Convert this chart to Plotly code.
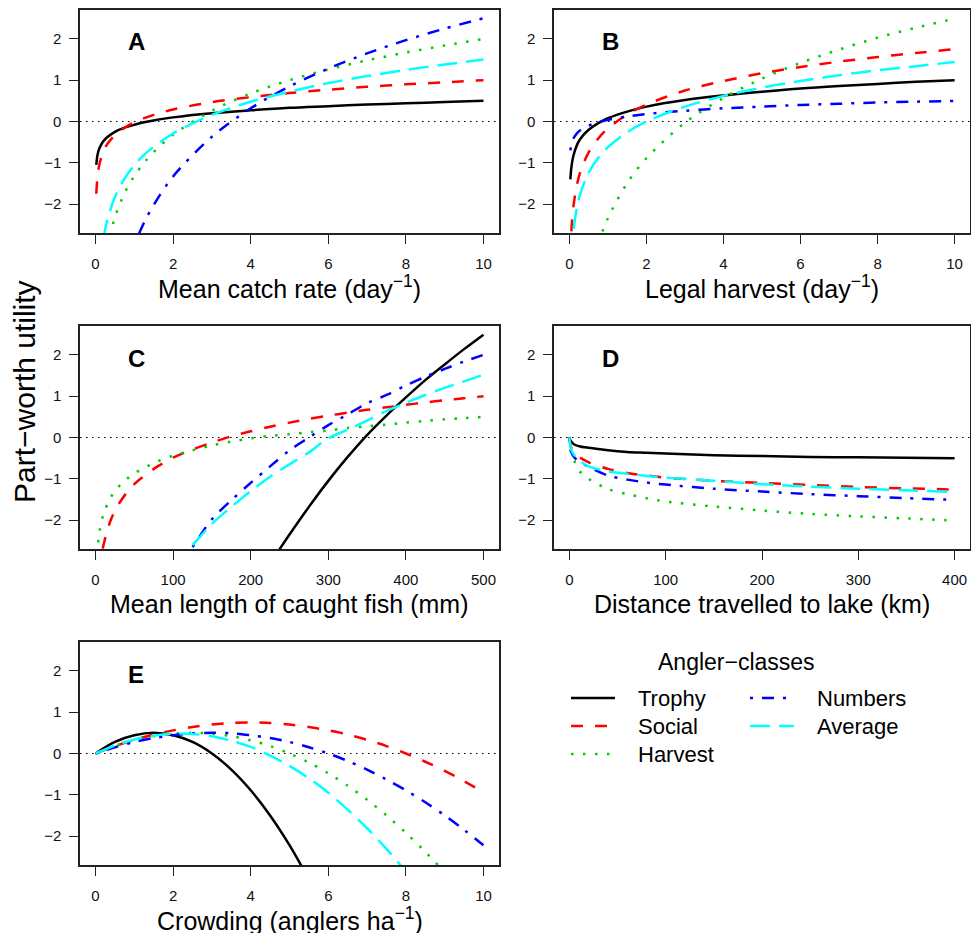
import plotly.graph_objects as go

W, H = 971, 933
FONT = "Liberation Sans, Arial, Helvetica, sans-serif"

CLASSES = ["Trophy", "Social", "Harvest", "Numbers", "Average"]
COLORS = ["#000000", "#FF0000", "#00CD00", "#0000FF", "#00FFFF"]
DASHES = ["solid", "12px,12px", "2.5px,9.5px", "3px,9px,12px,9px", "20px,9px"]

# ---------------- Panel A: mean catch rate (day^-1) ----------------
A_x = [0.02, 0.05, 0.1, 0.2, 0.3, 0.5, 0.75, 1, 1.25, 1.5, 2, 3, 4, 5, 6, 7, 8, 9, 10]
A_trophy = [-1.05, -0.82, -0.65, -0.48, -0.38, -0.25, -0.15, -0.08, -0.02, 0.025, 0.10, 0.20, 0.27, 0.33, 0.37, 0.41, 0.44, 0.47, 0.50]
A_social = [-1.75, -1.35, -1.04, -0.73, -0.55, -0.33, -0.15, -0.02, 0.08, 0.16, 0.29, 0.47, 0.59, 0.69, 0.77, 0.84, 0.90, 0.95, 1.00]
A_harvest = [None, None, None, None, -3.05, -2.32, -1.73, -1.32, -1.00, -0.74, -0.32, 0.26, 0.68, 1.00, 1.26, 1.48, 1.67, 1.84, 2.00]
A_numbers = [None, None, None, None, None, None, None, -2.98, -2.45, -2.02, -1.33, -0.37, 0.32, 0.85, 1.28, 1.65, 1.97, 2.25, 2.50]
A_average = [None, None, None, -2.85, -2.40, -1.83, -1.38, -1.06, -0.81, -0.61, -0.29, 0.16, 0.48, 0.72, 0.93, 1.10, 1.25, 1.38, 1.50]

# ---------------- Panel B: legal harvest (day^-1) ----------------
B_x = [0.025, 0.05, 0.1, 0.2, 0.3, 0.5, 0.75, 1, 1.5, 2, 3, 4, 5, 6, 7, 8, 9, 10]
B_trophy = [-1.40, -1.12, -0.84, -0.56, -0.40, -0.20, -0.04, 0.08, 0.24, 0.36, 0.52, 0.63, 0.72, 0.80, 0.86, 0.91, 0.96, 1.00]
B_social = [-3.24, -2.67, -2.09, -1.51, -1.17, -0.75, -0.41, -0.17, 0.17, 0.41, 0.75, 0.98, 1.17, 1.32, 1.45, 1.56, 1.66, 1.75]
B_harvest = [None, None, None, None, None, None, -2.94, -2.34, -1.49, -0.89, -0.03, 0.57, 1.04, 1.42, 1.74, 2.03, 2.27, 2.49]
B_numbers = [-0.70, -0.56, -0.42, -0.28, -0.20, -0.10, -0.02, 0.04, 0.12, 0.18, 0.26, 0.32, 0.36, 0.40, 0.43, 0.46, 0.48, 0.50]
B_average = [None, -3.30, -2.68, -2.06, -1.70, -1.24, -0.88, -0.62, -0.26, 0.00, 0.36, 0.62, 0.82, 0.98, 1.12, 1.24, 1.34, 1.44]

# ---------------- Panel C: mean length of caught fish (mm) ----------------
C_x = [2, 5, 10, 20, 30, 40, 50, 60, 80, 100, 125, 150, 175, 200, 225, 250, 275, 300, 325, 350, 375, 400, 425, 450, 475, 500]
C_trophy = [None] * 14 + [-3.05, -2.35, -1.68, -1.05, -0.47, 0.06, 0.53, 0.97, 1.39, 1.77, 2.14, 2.49]
C_social = [None, -3.27, -2.63, -1.98, -1.61, -1.34, -1.13, -0.97, -0.70, -0.49, -0.29, -0.12, 0.03, 0.15, 0.26, 0.36, 0.45, 0.53, 0.60, 0.67, 0.73, 0.79, 0.85, 0.90, 0.95, 1.00]
C_harvest = [-2.83, -2.30, -1.87, -1.44, -1.19, -1.01, -0.87, -0.76, -0.58, -0.44, -0.31, -0.19, -0.10, -0.02, 0.04, 0.08, 0.13, 0.17, 0.23, 0.27, 0.31, 0.36, 0.40, 0.44, 0.47, 0.50]
C_numbers = [None] * 9 + [-3.30, -2.65, -1.98, -1.52, -1.10, -0.70, -0.31, 0.00, 0.30, 0.56, 0.83, 1.03, 1.26, 1.47, 1.66, 1.84, 2.00]
C_average = [None] * 9 + [-3.13, -2.61, -2.09, -1.68, -1.30, -0.95, -0.65, -0.36, -0.02, 0.19, 0.41, 0.64, 0.84, 1.03, 1.20, 1.36, 1.52]

# ---------------- Panel D: distance travelled to lake (km) ----------------
D_x = [0, 1, 2, 5, 10, 20, 40, 60, 80, 100, 150, 200, 250, 300, 350, 400]
D_trophy = [0, -0.07, -0.10, -0.17, -0.21, -0.25, -0.31, -0.35, -0.37, -0.39, -0.43, -0.45, -0.47, -0.48, -0.49, -0.50]
D_social = [0, -0.18, -0.25, -0.36, -0.47, -0.60, -0.76, -0.86, -0.92, -0.97, -1.05, -1.10, -1.15, -1.20, -1.23, -1.26]
D_harvest = [0, -0.27, -0.38, -0.56, -0.80, -1.00, -1.25, -1.37, -1.47, -1.55, -1.67, -1.77, -1.85, -1.91, -1.96, -2.01]
D_numbers = [0, -0.25, -0.35, -0.48, -0.58, -0.71, -0.92, -1.02, -1.09, -1.14, -1.24, -1.31, -1.37, -1.42, -1.47, -1.51]
D_average = [0, -0.20, -0.30, -0.43, -0.55, -0.70, -0.82, -0.88, -0.93, -0.97, -1.05, -1.13, -1.19, -1.24, -1.28, -1.32]

# ---------------- Panel E: crowding (anglers ha^-1) ----------------
E_x = [0, 0.5, 1, 1.5, 2, 2.5, 3, 3.5, 4, 4.5, 5, 5.5, 6, 6.5, 7, 7.5, 8, 8.5, 9, 9.5, 10]
E_trophy = [0, 0.28, 0.44, 0.50, 0.44, 0.28, 0.00, -0.39, -0.89, -1.50, -2.22, -3.05] + [None] * 9
E_social = [0, 0.18, 0.33, 0.46, 0.56, 0.64, 0.70, 0.74, 0.75, 0.74, 0.70, 0.64, 0.56, 0.46, 0.33, 0.18, 0.00, -0.20, -0.42, -0.67, -0.94]
E_harvest = [0, 0.18, 0.32, 0.42, 0.48, 0.50, 0.48, 0.42, 0.32, 0.18, 0.00, -0.22, -0.48, -0.78, -1.12, -1.50, -1.92, -2.38, -2.88, None, None]
E_numbers = [0, 0.15, 0.28, 0.375, 0.44, 0.49, 0.50, 0.49, 0.44, 0.375, 0.28, 0.15, 0.00, -0.18, -0.39, -0.63, -0.89, -1.18, -1.50, -1.85, -2.22]
E_average = [0, 0.19, 0.34, 0.43, 0.48, 0.47, 0.42, 0.31, 0.16, -0.05, -0.30, -0.60, -0.95, -1.36, -1.81, -2.31, -2.86, None, None, None, None]

Y_TICKS = [-2, -1, 0, 1, 2]
Y_RANGE = [-2.7, 2.7]

panels = [
    dict(x=A_x, ys=[A_trophy, A_social, A_harvest, A_numbers, A_average],
         xr=[-0.4, 10.4], xt=[0, 2, 4, 6, 8, 10], box=(80, 499, 10, 233),
         letter="A", title="Mean catch rate (day<sup>\u22121</sup>)", ty=287),
    dict(x=B_x, ys=[B_trophy, B_social, B_harvest, B_numbers, B_average],
         xr=[-0.4, 10.4], xt=[0, 2, 4, 6, 8, 10], box=(554, 970, 10, 233),
         letter="B", title="Legal harvest (day<sup>\u22121</sup>)", ty=287),
    dict(x=C_x, ys=[C_trophy, C_social, C_harvest, C_numbers, C_average],
         xr=[-20, 520], xt=[0, 100, 200, 300, 400, 500], box=(80, 499, 326, 549),
         letter="C", title="Mean length of caught fish (mm)", ty=604),
    dict(x=D_x, ys=[D_trophy, D_social, D_harvest, D_numbers, D_average],
         xr=[-16, 416], xt=[0, 100, 200, 300, 400], box=(554, 970, 326, 549),
         letter="D", title="Distance travelled to lake (km)", ty=604),
    dict(x=E_x, ys=[E_trophy, E_social, E_harvest, E_numbers, E_average],
         xr=[-0.4, 10.4], xt=[0, 2, 4, 6, 8, 10], box=(80, 499, 642, 865),
         letter="E", title="Crowding (anglers ha<sup>\u22121</sup>)", ty=919),
]


def px(xp):
    return xp / W


def py(yp):
    return 1 - yp / H


fig = go.Figure()
layout = dict(
    width=W, height=H, margin=dict(l=0, r=0, t=0, b=0),
    paper_bgcolor="white", plot_bgcolor="white", showlegend=False,
    font=dict(family=FONT, color="black"),
)
annotations = []
shapes = []

for i, p in enumerate(panels, start=1):
    xa = "x" if i == 1 else f"x{i}"
    ya = "y" if i == 1 else f"y{i}"
    x0, x1, y0, y1 = p["box"]
    for k, yv in enumerate(p["ys"]):
        fig.add_trace(go.Scatter(
            x=p["x"], y=yv, mode="lines", xaxis=xa, yaxis=ya,
            line=dict(color=COLORS[k], width=2.5, dash=DASHES[k], shape="spline", smoothing=0.9),
            connectgaps=False, hoverinfo="skip", name=CLASSES[k],
        ))
    common = dict(showline=True, mirror=True, linecolor="#222", linewidth=1.5,
                  ticks="outside", ticklen=9, tickwidth=1.3, tickcolor="#222",
                  showgrid=False, zeroline=False,
                  tickfont=dict(size=15, family=FONT, color="#111"))
    layout[f"xaxis{i}"] = dict(domain=[px(x0), px(x1)], anchor=ya, range=p["xr"],
                               tickvals=p["xt"], ticklabelstandoff=7, **common)
    layout[f"yaxis{i}"] = dict(domain=[py(y1), py(y0)], anchor=xa, range=Y_RANGE,
                               tickvals=Y_TICKS, ticklabelstandoff=5, **common)
    # dotted reference line at zero utility
    shapes.append(dict(type="line", xref=f"{xa} domain", yref=ya, x0=0, x1=1, y0=0, y1=0,
                       line=dict(color="black", width=1, dash="1.5px,4.5px"), layer="below"))
    # panel letter
    annotations.append(dict(text=f"<b>{p['letter']}</b>", xref="paper", yref="paper",
                            x=px(x0 + 56), y=py(y0 + 32), xanchor="center", yanchor="middle",
                            showarrow=False, font=dict(size=24, family=FONT, color="black")))
    # x axis title
    annotations.append(dict(text=p["title"], xref="paper", yref="paper",
                            x=px((x0 + x1) / 2), y=py(p["ty"]), xanchor="center", yanchor="middle",
                            showarrow=False, font=dict(size=25, family=FONT, color="black")))

# shared y axis title
annotations.append(dict(text="Part\u2212worth utility", xref="paper", yref="paper",
                        x=px(25), y=py(392), xanchor="center", yanchor="middle", textangle=-90,
                        showarrow=False, font=dict(size=30, family=FONT, color="black")))

# legend (drawn by hand, two columns)
annotations.append(dict(text="Angler\u2212classes", xref="paper", yref="paper",
                        x=px(736), y=py(662), xanchor="center", yanchor="middle",
                        showarrow=False, font=dict(size=23, family=FONT, color="black")))
leg_pos = [(571, 636, 698), (571, 636, 726), (571, 636, 754), (750, 815, 698), (750, 815, 726)]
for k, (lx, tx, ly) in enumerate(leg_pos):
    shapes.append(dict(type="line", xref="paper", yref="paper",
                       x0=px(lx), x1=px(lx + 44), y0=py(ly), y1=py(ly),
                       line=dict(color=COLORS[k], width=2.5, dash=DASHES[k])))
    annotations.append(dict(text=CLASSES[k], xref="paper", yref="paper",
                            x=px(tx), y=py(ly), xanchor="left", yanchor="middle",
                            showarrow=False, font=dict(size=22, family=FONT, color="black")))

layout["annotations"] = annotations
layout["shapes"] = shapes
fig.update_layout(**layout)
fig.write_html("out.html")
